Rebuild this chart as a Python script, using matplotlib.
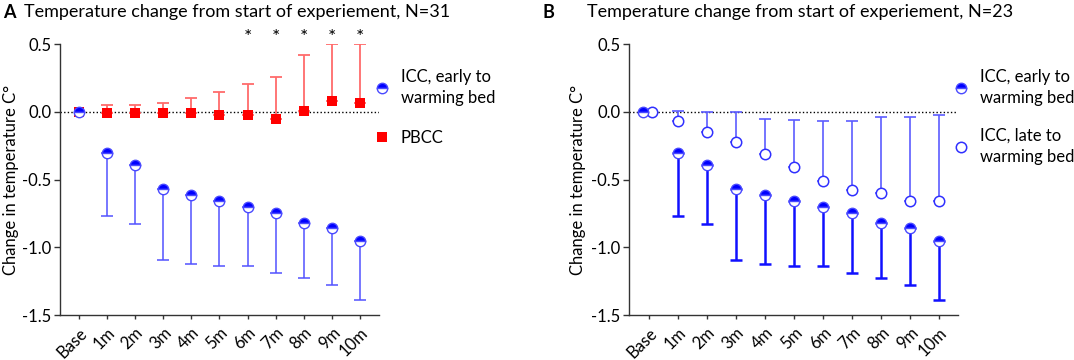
import matplotlib
matplotlib.use("Agg")
import matplotlib.pyplot as plt
import numpy as np

plt.rcParams['font.family'] = ['Lato', 'DejaVu Sans']

#---------------------------------------------------------
# DATA
times = ['Base', '1m', '2m', '3m', '4m', '5m', '6m', '7m', '8m', '9m', '10m']
early_mean = [0, -0.30, -0.39, -0.57, -0.61, -0.66, -0.70, -0.75, -0.82, -0.86, -0.95]
early_low = [0, -0.77, -0.83, -1.09, -1.12, -1.14, -1.14, -1.19, -1.23, -1.28, -1.39]
pbcc_mean = [0, -0.01, -0.01, -0.01, -0.01, -0.02, -0.02, -0.05, 0.01, 0.08, 0.07]
pbcc_high = [0, 0.05, 0.05, 0.07, 0.10, 0.15, 0.21, 0.26, 0.42, 0.50, 0.50]
late_mean = [0, -0.07, -0.15, -0.22, -0.31, -0.41, -0.51, -0.58, -0.60, -0.66, -0.66]
late_high = [0, 0.01, 0.0, 0.0, -0.05, -0.06, -0.07, -0.07, -0.04, -0.04, -0.02]
signif = ['', '', '', '', '', '', '*', '*', '*', '*', '*']
yticks = [0.5, 0.0, -0.5, -1.0, -1.5]

#---------------------------------------------------------
BLUE = '#0000ff'
W, H = 1074, 360
fig = plt.figure(figsize=(W / 100, H / 100), dpi=100)

def px_axes(left, right, top, bottom):
    return fig.add_axes([left / W, 1 - bottom / H, (right - left) / W, (bottom - top) / H])

def style_axes(ax, xlim):
    for s in ['top', 'right']:
        ax.spines[s].set_visible(False)
    for s in ['left', 'bottom']:
        ax.spines[s].set_color('#333333')
        ax.spines[s].set_linewidth(1.0)
    ax.set_xlim(xlim)
    ax.set_ylim(-1.5, 0.5)
    ax.set_yticks(yticks)
    ax.set_yticklabels(['%.1f' % v for v in yticks], fontsize=12)
    ax.set_xticks(range(len(times)))
    ax.set_xticklabels(times, rotation=45, ha='right', va='top',
                       rotation_mode='anchor', fontsize=12)
    ax.tick_params(axis='y', length=4, width=1, color='#333333', pad=2)
    ax.tick_params(axis='x', length=3, width=1, color='#333333', pad=4)
    ax.axhline(0, color='black', lw=1.0, ls=(0, (1, 1.6)), zorder=1)
    ax.set_ylabel('Change in temperature C°', fontsize=12)
    ax.yaxis.set_label_coords(-0.13, 0.5)

def errs(mean, bound):
    return np.abs(np.array(bound) - np.array(mean))

def add_legend(ax, handles, labels, left_px, top_px, spacing):
    leg = ax.legend(handles, labels, loc='upper left', bbox_to_anchor=(left_px / W, 1 - top_px / H),
                    bbox_transform=fig.transFigure, frameon=False, fontsize=12,
                    handlelength=1.0, handletextpad=0.6, labelspacing=spacing,
                    borderpad=0, borderaxespad=0)
    for t in leg.get_texts():
        t.set_linespacing(1.4)
    return leg

half = dict(marker='o', fillstyle='top', markerfacecolor=BLUE, markerfacecoloralt='white',
            markeredgecolor='#4a4aff', markeredgewidth=1.0, markersize=7.5, linestyle='none')

x = np.arange(len(times), dtype=float)

#---------------------------- PANEL A
axA = px_axes(60, 379, 44.3, 315)
style_axes(axA, (-0.66, 10.67))
d_low = errs(early_mean, early_low)
d_high = errs(pbcc_mean, pbcc_high)
axA.errorbar(x[1:], pbcc_mean[1:], yerr=[np.zeros(10), d_high[1:]], fmt='none',
             ecolor='#ff6b6b', elinewidth=1.3, capsize=4, capthick=1.3, zorder=2)
axA.errorbar(x[1:], early_mean[1:], yerr=[d_low[1:], np.zeros(10)], fmt='none',
             ecolor='#5252ff', elinewidth=1.1, capsize=4, capthick=1.1, zorder=2)
axA.plot(x, pbcc_mean, marker='s', color='#ff0000', markersize=7, linestyle='none',
         markeredgewidth=0, zorder=3, label='PBCC')
axA.plot(x, early_mean, zorder=4, label='ICC, early to\nwarming bed', **half)
for xi, s in zip(x, signif):
    if s:
        axA.text(xi, 0.55, s, ha='center', va='center', fontsize=14, clip_on=False)
hA, lA = axA.get_legend_handles_labels()
add_legend(axA, hA[::-1], lA[::-1], 374, 69, 1.4)

fig.text(3 / W, 1 - 12 / H, 'A', fontsize=13, fontweight='bold', va='center', ha='left')
fig.text(24 / W, 1 - 12 / H, 'Temperature change from start of experiement, N=31',
         fontsize=13, va='center', ha='left')

#---------------------------- PANEL B
axB = px_axes(628.5, 958, 44.3, 315)
style_axes(axB, (-0.70, 10.65))
xe = x.copy()
xe[0] -= 0.2
xl = x.copy()
xl[0] += 0.12
d_late = errs(late_mean, late_high)
axB.errorbar(xl[1:], late_mean[1:], yerr=[np.zeros(10), d_late[1:]], fmt='none',
             ecolor='#5c5cff', elinewidth=1.2, capsize=4, capthick=1.2, zorder=2)
axB.errorbar(xe[1:], early_mean[1:], yerr=[d_low[1:], np.zeros(10)], fmt='none',
             ecolor='#1010ff', elinewidth=1.8, capsize=4, capthick=1.8, zorder=2)
axB.plot(xe, early_mean, zorder=4, label='ICC, early to\nwarming bed', **half)
axB.plot(xl, late_mean, marker='o', markerfacecolor='white', markeredgecolor='#3030ff',
         markeredgewidth=1.1, markersize=7.5, linestyle='none', zorder=3,
         label='ICC, late to\nwarming bed')
hB, lB = axB.get_legend_handles_labels()
add_legend(axB, hB, lB, 953, 69, 1.3)

fig.text(543 / W, 1 - 12 / H, 'B', fontsize=13, fontweight='bold', va='center', ha='left')
fig.text(587 / W, 1 - 12 / H, 'Temperature change from start of experiement, N=23',
         fontsize=13, va='center', ha='left')

fig.savefig('out.png', dpi=100)
